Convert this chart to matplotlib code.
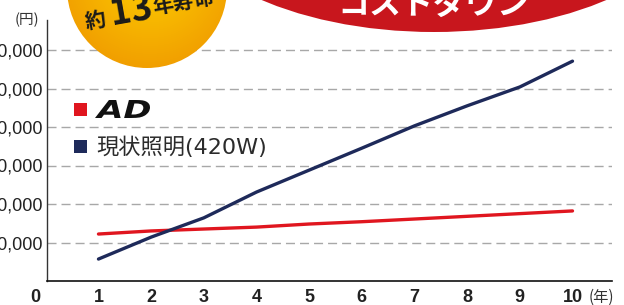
import numpy as np
import matplotlib
matplotlib.use("Agg")
import matplotlib.pyplot as plt
from matplotlib.patches import Circle, Ellipse, Rectangle, PathPatch
from matplotlib.textpath import TextPath
from matplotlib.font_manager import FontProperties
from matplotlib.transforms import Affine2D

plt.rcParams['font.family'] = ['Liberation Sans', 'Noto Sans CJK JP', 'DejaVu Sans']
plt.rcParams['lines.scale_dashes'] = False

# data (yen)
years = [1, 2, 3, 4, 5, 6, 7, 8, 9, 10]
ad_cost = [122000, 130000, 135000, 140000, 148000, 154000, 161000, 168000, 175000, 182000]
current_cost = [57000, 114000, 164000, 231000, 288000, 345000, 403000, 455000, 504000, 571000]
y_ticks = [100000, 200000, 300000, 400000, 500000, 600000]
y_labels = ["100,000", "200,000", "300,000", "400,000", "500,000", "600,000"]
x_labels = [str(y) for y in years]

W, H = 624, 305
fig = plt.figure(figsize=(W / 100, H / 100), dpi=100)

# main chart, placed in pixel terms
left, right, top, bottom = 47, 612, 20, 281
ax = fig.add_axes([left / W, (H - bottom) / H, (right - left) / W, (bottom - top) / H])
unit_x = 52.67
x0_px = 45.8
ax.set_xlim((left - x0_px) / unit_x, (right - x0_px) / unit_x)
ax.set_ylim(0, 100000 * (bottom - top) / 38.5)

for v in y_ticks:
    ax.axhline(v, color='#a8a8a8', lw=1.0, ls=(0, (6.5, 3.6)), zorder=1)

ax.plot(years, ad_cost, color='#e0161f', lw=2.4, solid_capstyle='round', zorder=3)
ax.plot(years, current_cost, color='#1e2a5a', lw=2.4, solid_capstyle='round', zorder=3)

ax.set_yticks(y_ticks)
ax.set_yticklabels(y_labels, fontsize=13, color='#222222')
ax.set_xticks(years)
ax.set_xticklabels(x_labels, fontsize=13, fontweight='bold', color='#222222')
ax.tick_params(axis='y', length=0, pad=3)
ax.tick_params(axis='x', length=0, pad=6)
for s in ['top', 'right']:
    ax.spines[s].set_visible(False)
ax.spines['left'].set_color('#333333')
ax.spines['left'].set_linewidth(1.0)
ax.spines['bottom'].set_color('#111111')
ax.spines['bottom'].set_linewidth(1.2)
ax.patch.set_alpha(0)

# overlay in pixel coordinates for decorations and legend
ov = fig.add_axes([0, 0, 1, 1], zorder=5)
ov.set_xlim(0, W)
ov.set_ylim(H, 0)
ov.axis('off')
ov.patch.set_alpha(0)

# orange badge
cx, cy, r = 147, -12, 80
gx = np.linspace(cx - r, cx + r, 200)
gy = np.linspace(cy - r, cy + r, 200)
GX, GY = np.meshgrid(gx, gy)
t = np.clip(np.hypot(GX - 150, GY + 25) / 95, 0, 1)
c_in = np.array([253, 206, 0]) / 255
c_out = np.array([241, 158, 0]) / 255
img = c_in[None, None, :] * (1 - t[..., None]) + c_out[None, None, :] * t[..., None]
circ = Circle((cx, cy), r, facecolor='none', edgecolor='none', transform=ov.transData)
ov.add_patch(circ)
im = ov.imshow(img, extent=(cx - r, cx + r, cy + r, cy - r), origin='upper',
               interpolation='bilinear', aspect='auto', zorder=2)
im.set_clip_path(circ)
ov.set_xlim(0, W)
ov.set_ylim(H, 0)

jp = ['Noto Sans CJK JP', 'DejaVu Sans']
ov.text(95, 21, "約", family=jp, fontsize=15, fontweight='bold', color='#1a1a1a',
        rotation=10, ha='center', va='center', rotation_mode='anchor', zorder=3)
ov.text(131, 10, "13", family=jp, fontsize=26, fontweight='bold', color='#1a1a1a',
        rotation=10, ha='center', va='center', rotation_mode='anchor', zorder=3)
ov.text(184, 2, "年寿命", family=jp, fontsize=15, fontweight='bold', color='#1a1a1a',
        rotation=10, ha='center', va='center', rotation_mode='anchor', zorder=3)

# red banner
ov.add_patch(Ellipse((434, -100), 528, 264, facecolor='#c8161d', edgecolor='none', zorder=2))
ov.text(433, 14, "コストダウン", family=jp, fontsize=23, fontweight='bold', color='white',
        ha='center', va='baseline', zorder=3)

# axis captions
ov.text(27, 20, "(円)", family=jp, fontsize=10.5, color='#333333', ha='center', va='center')
ov.text(601, 297, "(年)", family=jp, fontsize=11, color='#333333', ha='center', va='center')
ov.text(35, 298, "0", fontsize=13, fontweight='bold', color='#222222', ha='center', va='center')

# legend
ov.add_patch(Rectangle((74, 103), 13, 13, facecolor='#e0161f', edgecolor='none'))
ov.add_patch(Rectangle((74, 140), 13, 13, facecolor='#1e2a5a', edgecolor='none'))
tp = TextPath((0, 0), "AD", size=1,
              prop=FontProperties(family='DejaVu Sans', weight='bold', style='italic'))
bb = tp.get_extents()
sx = 55 / bb.width
sy = 18 / bb.height
tr = Affine2D().translate(-bb.x0, -bb.y0).scale(sx, -sy).translate(95, 118)
ov.add_patch(PathPatch(tr.transform_path(tp), facecolor='#111111', edgecolor='none'))
ov.text(96, 147, "現状照明(420W)", family=['DejaVu Sans', 'Noto Sans CJK JP'],
        fontsize=16, color='#2b2b2b', ha='left', va='center')

fig.savefig("out.png", dpi=100)
